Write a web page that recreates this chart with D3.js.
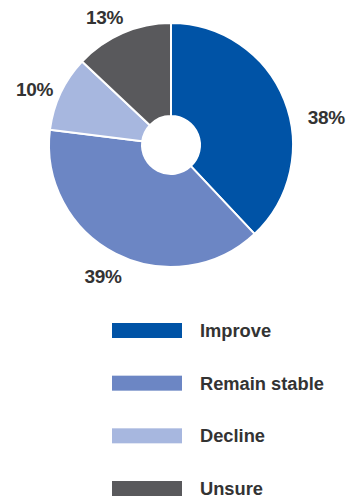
<!DOCTYPE html>
<html><head><meta charset="utf-8">
<script src="https://cdn.jsdelivr.net/npm/d3@7"></script>
<style>html,body{margin:0;padding:0;background:#fff;}svg{display:block;}</style>
</head><body>
<svg id="c" width="346" height="497"></svg>
<script>
const categories = ["Improve", "Remain stable", "Decline", "Unsure"];
const values = [38, 39, 10, 13];
const colors = ["#0053a6", "#6c86c4", "#a7b7df", "#59595c"];
const labelText = ["38%", "39%", "10%", "13%"];

const svg = d3.select("#c");
const cx = 171, cy = 145, R = 122, r0 = 29;
const data = categories.map((c, i) => ({cat: c, value: values[i], color: colors[i], label: labelText[i]}));
const pie = d3.pie().value(d => d.value).sort(null);
const arcs = pie(data);
const arc = d3.arc().innerRadius(r0).outerRadius(R);
const g = svg.append("g").attr("transform", `translate(${cx},${cy})`);
g.selectAll("path").data(arcs).join("path")
  .attr("d", arc).attr("fill", d => d.data.color)
  .attr("stroke", "#fff").attr("stroke-width", 2).attr("stroke-linejoin", "round");

// labels: positioned radially outside
const labelArc = d3.arc().innerRadius(R + 30).outerRadius(R + 30);
const labelOffsets = [[14, 28], [1, -4], [1, 9.5], [-6, 12]];
g.selectAll("text.pl").data(arcs).join("text").attr("class", "pl")
  .attr("x", (d, i) => labelArc.centroid(d)[0] + labelOffsets[i][0])
  .attr("y", (d, i) => labelArc.centroid(d)[1] + labelOffsets[i][1])
  .attr("text-anchor", "middle").attr("dominant-baseline", "central")
  .attr("font-family", "Liberation Sans, Arial, sans-serif").attr("font-weight", "bold")
  .attr("font-size", 19).attr("fill", "#333").attr("letter-spacing", -0.3)
  .text(d => d.data.label);

// legend
const ly = d3.scalePoint().domain(categories).range([331, 489]);
const lg = svg.append("g");
lg.selectAll("rect").data(data).join("rect")
  .attr("x", 112).attr("y", d => ly(d.cat) - 8).attr("width", 70).attr("height", 15)
  .attr("fill", d => d.color);
lg.selectAll("text").data(data).join("text")
  .attr("x", 200).attr("y", d => ly(d.cat) + 6)
  .attr("font-family", "Liberation Sans, Arial, sans-serif").attr("font-weight", "bold")
  .attr("font-size", 18.3).attr("fill", "#333")
  .text(d => d.cat);
</script>
</body></html>
